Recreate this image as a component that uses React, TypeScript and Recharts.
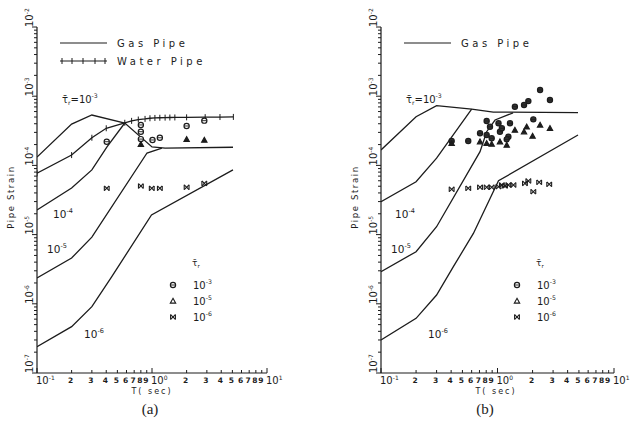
import React from "react";
import { ComposedChart, Line, Scatter, XAxis, YAxis } from "recharts";

type Pt = { t: number; v: number };

const INK = "#1c1c1c";
const FONT = "'DejaVu Sans', sans-serif";

// panel (a) : gas pipe curves for tau_r = 1e-3 .. 1e-6
const gasA3: Pt[] = [
  { t: 0.1, v: 1.32e-4 }, { t: 0.2, v: 3.96e-4 }, { t: 0.3, v: 5.35e-4 },
  { t: 0.58, v: 4.1e-4 }, { t: 1.0, v: 1.85e-4 }, { t: 1.3, v: 1.78e-4 }, { t: 5.06, v: 1.83e-4 },
];
const gasA4: Pt[] = [
  { t: 0.1, v: 2.27e-5 }, { t: 0.2, v: 4.71e-5 }, { t: 0.3, v: 8.6e-5 },
  { t: 0.406, v: 1.85e-4 }, { t: 0.58, v: 4.1e-4 },
];
const gasA5: Pt[] = [
  { t: 0.1, v: 2.36e-6 }, { t: 0.2, v: 4.59e-6 }, { t: 0.3, v: 9.2e-6 },
  { t: 0.905, v: 1.51e-4 }, { t: 1.22, v: 1.78e-4 },
];
const gasA6: Pt[] = [
  { t: 0.1, v: 2.4e-7 }, { t: 0.2, v: 4.67e-7 }, { t: 0.3, v: 9.08e-7 },
  { t: 0.447, v: 2.47e-6 }, { t: 0.99, v: 1.92e-5 }, { t: 5.06, v: 8.6e-5 },
];
const waterA: Pt[] = [
  { t: 0.1, v: 7.7e-5 }, { t: 0.2, v: 1.41e-4 }, { t: 0.3, v: 2.51e-4 }, { t: 0.4, v: 3.44e-4 },
  { t: 0.58, v: 4.13e-4 }, { t: 0.665, v: 4.4e-4 }, { t: 0.76, v: 4.6e-4 }, { t: 0.87, v: 4.7e-4 },
  { t: 0.96, v: 4.8e-4 }, { t: 1.06, v: 4.85e-4 }, { t: 1.17, v: 4.88e-4 }, { t: 1.3, v: 4.9e-4 },
  { t: 1.43, v: 4.92e-4 }, { t: 1.58, v: 4.93e-4 }, { t: 2.0, v: 4.95e-4 }, { t: 2.9, v: 4.98e-4 },
  { t: 3.9, v: 5.0e-4 }, { t: 5.1, v: 5.02e-4 },
];
const circlesA: Pt[] = [
  { t: 0.404, v: 2.2e-4 }, { t: 0.8, v: 3.84e-4 }, { t: 0.8, v: 3.07e-4 }, { t: 0.8, v: 2.4e-4 },
  { t: 1.01, v: 2.33e-4 }, { t: 1.17, v: 2.51e-4 }, { t: 2.0, v: 3.71e-4 }, { t: 2.85, v: 4.43e-4 },
];
const trianglesA: Pt[] = [
  { t: 0.8, v: 2.02e-4 }, { t: 2.0, v: 2.38e-4 }, { t: 2.85, v: 2.33e-4 },
];
const starsA: Pt[] = [
  { t: 0.404, v: 4.67e-5 }, { t: 0.8, v: 5.03e-5 }, { t: 0.995, v: 4.67e-5 },
  { t: 1.17, v: 4.67e-5 }, { t: 2.0, v: 4.83e-5 }, { t: 2.85, v: 5.5e-5 },
];

// panel (b)
const gasB3: Pt[] = [
  { t: 0.1, v: 1.67e-4 }, { t: 0.2, v: 5.06e-4 }, { t: 0.3, v: 7.3e-4 },
  { t: 0.6, v: 6.5e-4 }, { t: 0.92, v: 5.9e-4 }, { t: 4.91, v: 5.8e-4 },
];
const gasB4: Pt[] = [
  { t: 0.1, v: 2.99e-5 }, { t: 0.2, v: 5.8e-5 }, { t: 0.3, v: 1.27e-4 }, { t: 0.6, v: 6.5e-4 },
];
const gasB5: Pt[] = [
  { t: 0.1, v: 2.91e-6 }, { t: 0.2, v: 5.66e-6 }, { t: 0.3, v: 1.3e-5 }, { t: 0.708, v: 1.58e-4 },
  { t: 0.807, v: 3.07e-4 }, { t: 0.953, v: 4.53e-4 }, { t: 1.36, v: 5.75e-4 },
];
const gasB6: Pt[] = [
  { t: 0.1, v: 3.0e-7 }, { t: 0.2, v: 6.17e-7 }, { t: 0.3, v: 1.34e-6 }, { t: 0.418, v: 3.44e-6 },
  { t: 0.621, v: 1.04e-5 }, { t: 1.02, v: 6.0e-5 }, { t: 4.91, v: 2.75e-4 },
];
const circlesB: Pt[] = [
  { t: 2.32, v: 1.23e-3 }, { t: 2.82, v: 8.8e-4 }, { t: 1.84, v: 8.5e-4 }, { t: 1.69, v: 7.46e-4 },
  { t: 1.41, v: 7.05e-4 }, { t: 2.03, v: 4.63e-4 }, { t: 0.807, v: 4.38e-4 }, { t: 1.02, v: 4.06e-4 },
  { t: 1.28, v: 4.06e-4 }, { t: 0.862, v: 3.62e-4 }, { t: 0.708, v: 2.91e-4 }, { t: 0.807, v: 2.75e-4 },
  { t: 1.05, v: 3.07e-4 }, { t: 1.24, v: 2.6e-4 }, { t: 0.404, v: 2.25e-4 }, { t: 0.561, v: 2.25e-4 },
  { t: 0.891, v: 2.47e-4 }, { t: 1.09, v: 3.44e-4 }, { t: 1.2, v: 2.38e-4 },
];
const trianglesB: Pt[] = [
  { t: 0.404, v: 2.09e-4 }, { t: 0.708, v: 2.2e-4 }, { t: 0.807, v: 2.09e-4 }, { t: 0.891, v: 2.04e-4 },
  { t: 1.05, v: 2.2e-4 }, { t: 1.2, v: 1.97e-4 }, { t: 1.41, v: 3.25e-4 }, { t: 1.69, v: 3.07e-4 },
  { t: 1.78, v: 3.62e-4 }, { t: 2.0, v: 2.66e-4 }, { t: 2.32, v: 3.84e-4 }, { t: 2.82, v: 3.44e-4 },
];
const starsB: Pt[] = [
  { t: 0.404, v: 4.52e-5 }, { t: 0.561, v: 4.67e-5 }, { t: 0.708, v: 4.83e-5 }, { t: 0.807, v: 4.83e-5 },
  { t: 0.891, v: 4.83e-5 }, { t: 1.02, v: 4.92e-5 }, { t: 1.09, v: 5.21e-5 }, { t: 1.16, v: 5.05e-5 },
  { t: 1.24, v: 5.21e-5 }, { t: 1.37, v: 5.21e-5 }, { t: 1.72, v: 5.5e-5 }, { t: 1.84, v: 5.96e-5 },
  { t: 2.03, v: 4.17e-5 }, { t: 2.28, v: 5.7e-5 }, { t: 2.78, v: 5.33e-5 },
];

// axis ticks
const mantissas = [1, 2, 3, 4, 5, 6, 7, 8, 9];
const xDecades = [-1, 0];
const yDecades = [-7, -6, -5, -4, -3];
const xTicks = [...xDecades.flatMap((d) => mantissas.map((m) => m * 10 ** d)), 10];
const yTicks = [...yDecades.flatMap((d) => mantissas.map((m) => m * 10 ** d)), 1e-2];
const legendExps = ["-3", "-5", "-6"];

function isMajor(v: number) {
  const lg = Math.log10(v);
  return Math.abs(lg - Math.round(lg)) < 1e-6;
}

function XTick(props: any) {
  const { x, y, payload } = props;
  const v = payload.value;
  const major = isMajor(v);
  const exp = Math.round(Math.log10(v));
  const mant = Math.round(v / 10 ** Math.floor(Math.log10(v) + 1e-9));
  return (
    <g>
      <line x1={x} x2={x} y1={y} y2={y - (major ? 5 : 3)} stroke={INK} strokeWidth={1} />
      {major ? (
        <text x={x - 1} y={y + 11} fontSize={10} fontFamily={FONT} fill={INK} textAnchor="start">
          10<tspan dy={-4} fontSize={6}>{exp}</tspan>
        </text>
      ) : (
        <text x={x - 1} y={y + 10} fontSize={7.5} fontWeight="bold" fontFamily={FONT} fill={INK} textAnchor="middle">
          {mant}
        </text>
      )}
    </g>
  );
}

function YTick(props: any) {
  const { x, y, payload } = props;
  const v = payload.value;
  const major = isMajor(v);
  const exp = Math.round(Math.log10(v));
  const bx = x - 4;
  return (
    <g>
      <line x1={x - (major ? 5 : 3)} x2={x} y1={y} y2={y} stroke={INK} strokeWidth={1} />
      {major && (
        <text x={bx} y={y} transform={`rotate(-90 ${bx} ${y})`} fontSize={10} fontFamily={FONT} fill={INK}>
          10<tspan dy={-4} fontSize={6}>{exp}</tspan>
        </text>
      )}
    </g>
  );
}

function Theta({ cx, cy, fill = "#fff" }: any) {
  return (
    <g>
      <circle cx={cx} cy={cy} r={2.6} fill={fill} stroke={INK} strokeWidth={1.2} />
      <line x1={cx - 2.6} x2={cx + 2.6} y1={cy} y2={cy} stroke={INK} strokeWidth={0.9} />
    </g>
  );
}

function Tri({ cx, cy, fill = INK }: any) {
  const s = 2.7;
  return (
    <path
      d={`M${cx},${cy - s} L${cx + s},${cy + s * 0.8} L${cx - s},${cy + s * 0.8} Z`}
      fill={fill}
      stroke={INK}
      strokeWidth={1.1}
    />
  );
}

function Star({ cx, cy }: any) {
  const s = 2.4;
  return (
    <g stroke={INK} strokeWidth={1.1}>
      <line x1={cx - s} y1={cy - s} x2={cx + s} y2={cy + s} />
      <line x1={cx - s} y1={cy + s} x2={cx + s} y2={cy - s} />
      <line x1={cx - s} y1={cy - s} x2={cx - s} y2={cy + s} />
      <line x1={cx + s} y1={cy - s} x2={cx + s} y2={cy + s} />
    </g>
  );
}

function Plus({ cx, cy }: any) {
  return (
    <g stroke={INK} strokeWidth={1}>
      <line x1={cx} x2={cx} y1={cy - 3} y2={cy + 3} />
    </g>
  );
}

type PanelProps = {
  left: number;
  width: number;
  yAxisWidth: number;
  right: number;
  gas: Pt[][];
  water?: Pt[];
  circles: Pt[];
  triangles: Pt[];
  stars: Pt[];
  dark?: boolean;
};

function Panel({ left, width, yAxisWidth, right, gas, water, circles, triangles, stars, dark }: PanelProps) {
  return (
    <div style={{ position: "absolute", left, top: 0 }}>
      <ComposedChart width={width} height={400} margin={{ top: 27, right, bottom: 0, left: 0 }}>
        <XAxis
          dataKey="t"
          type="number"
          scale="log"
          domain={[0.1, 10]}
          ticks={xTicks}
          interval={0}
          allowDataOverflow
          height={27}
          tickSize={0}
          tickMargin={0}
          tick={<XTick />}
          axisLine={{ stroke: INK, strokeWidth: 1.2 }}
        />
        <YAxis
          dataKey="v"
          type="number"
          scale="log"
          domain={[1e-7, 1e-2]}
          ticks={yTicks}
          interval={0}
          allowDataOverflow
          width={yAxisWidth}
          tickSize={0}
          tickMargin={0}
          tick={<YTick />}
          axisLine={{ stroke: INK, strokeWidth: 1.2 }}
        />
        {gas.map((d, i) => (
          <Line
            key={"g" + i}
            data={d}
            dataKey="v"
            type="linear"
            stroke={INK}
            strokeWidth={1.3}
            dot={false}
            isAnimationActive={false}
          />
        ))}
        {water && (
          <Line
            data={water}
            dataKey="v"
            type="linear"
            stroke={INK}
            strokeWidth={1.3}
            dot={(p: any) => <Plus key={"w" + p.index} cx={p.cx} cy={p.cy} />}
            isAnimationActive={false}
          />
        )}
        <Scatter data={circles} isAnimationActive={false} shape={(p: any) => <Theta cx={p.cx} cy={p.cy} fill={dark ? "#333" : "#fff"} />} />
        <Scatter data={triangles} isAnimationActive={false} shape={(p: any) => <Tri cx={p.cx} cy={p.cy} />} />
        <Scatter data={stars} isAnimationActive={false} shape={(p: any) => <Star cx={p.cx} cy={p.cy} />} />
      </ComposedChart>
    </div>
  );
}

function Pow({ x, y, exp, size = 10.5 }: any) {
  return (
    <text x={x} y={y} fontSize={size} fontFamily={FONT} fill={INK}>
      10<tspan dy={-5} fontSize={size * 0.62}>{exp}</tspan>
    </text>
  );
}

function TauR({ x, y, size = 10, suffix }: any) {
  return (
    <text x={x} y={y} fontSize={size} fontFamily={FONT} fill={INK}>
      {"\u03C4\u0304"}
      <tspan dy={2} fontSize={size * 0.6}>r</tspan>
      {suffix && (
        <>
          <tspan dy={-2}>{"=10"}</tspan>
          <tspan dy={-5} fontSize={size * 0.62}>-3</tspan>
        </>
      )}
    </text>
  );
}

function Annotations({ dx, plotX, water }: { dx: number; plotX: number; water?: boolean }) {
  const spaced = { fontSize: 10, fontFamily: FONT, fill: INK, letterSpacing: 3.5 };
  return (
    <g>
      <line x1={60 + dx} x2={107 + dx} y1={43} y2={43} stroke={INK} strokeWidth={1.2} />
      <text x={117 + dx} y={47} {...spaced}>Gas Pipe</text>
      {water && (
        <g>
          <line x1={60 + dx} x2={107 + dx} y1={61} y2={61} stroke={INK} strokeWidth={1.2} />
          {[62, 72, 83, 95, 105].map((px) => (
            <line key={px} x1={px + dx} x2={px + dx} y1={58} y2={64} stroke={INK} strokeWidth={1} />
          ))}
          <text x={117 + dx} y={65} {...spaced}>Water Pipe</text>
        </g>
      )}
      <TauR x={62 + dx} y={103} suffix />
      <Pow x={53 + dx - (dx ? 2 : 0)} y={218} exp="-4" />
      <Pow x={47 + dx} y={253} exp="-5" />
      <Pow x={84 + dx} y={338} exp="-6" />
      {/* symbol legend */}
      <TauR x={192 + dx} y={266} size={9} />
      <Theta cx={173 + dx} cy={285} />
      <Tri cx={173 + dx} cy={301} fill="none" />
      <Star cx={173 + dx} cy={317} />
      {legendExps.map((e, i) => (
        <Pow key={e} x={193 + dx} y={289 + i * 16} exp={e} size={10} />
      ))}
      <text
        x={14 + dx}
        y={197}
        transform={`rotate(-90 ${14 + dx} 197)`}
        textAnchor="middle"
        fontSize={8.5}
        fontFamily={FONT}
        fill={INK}
        letterSpacing={1.6}
      >
        Pipe Strain
      </text>
      <text x={plotX + 115} y={394} textAnchor="middle" fontSize={8} fontFamily={FONT} fill={INK} letterSpacing={2}>
        T( sec)
      </text>
    </g>
  );
}

export default function App() {
  return (
    <div style={{ position: "absolute", left: 0, top: 0, width: 635, height: 430, background: "#fff" }}>
      <Panel
        left={0}
        width={290}
        yAxisWidth={37}
        right={23}
        gas={[gasA3, gasA4, gasA5, gasA6]}
        water={waterA}
        circles={circlesA}
        triangles={trianglesA}
        stars={starsA}
      />
      <Panel
        left={320}
        width={315}
        yAxisWidth={61}
        right={21}
        gas={[gasB3, gasB4, gasB5, gasB6]}
        circles={circlesB}
        triangles={trianglesB}
        stars={starsB}
        dark
      />
      <svg width={635} height={430} style={{ position: "absolute", left: 0, top: 0, pointerEvents: "none" }}>
        <Annotations dx={0} plotX={37} water />
        <Annotations dx={344} plotX={381} />
        <text x={150} y={414} textAnchor="middle" fontSize={15} fontFamily="'Liberation Serif', serif" fill={INK}>(a)</text>
        <text x={485} y={414} textAnchor="middle" fontSize={15} fontFamily="'Liberation Serif', serif" fill={INK}>(b)</text>
      </svg>
    </div>
  );
}
